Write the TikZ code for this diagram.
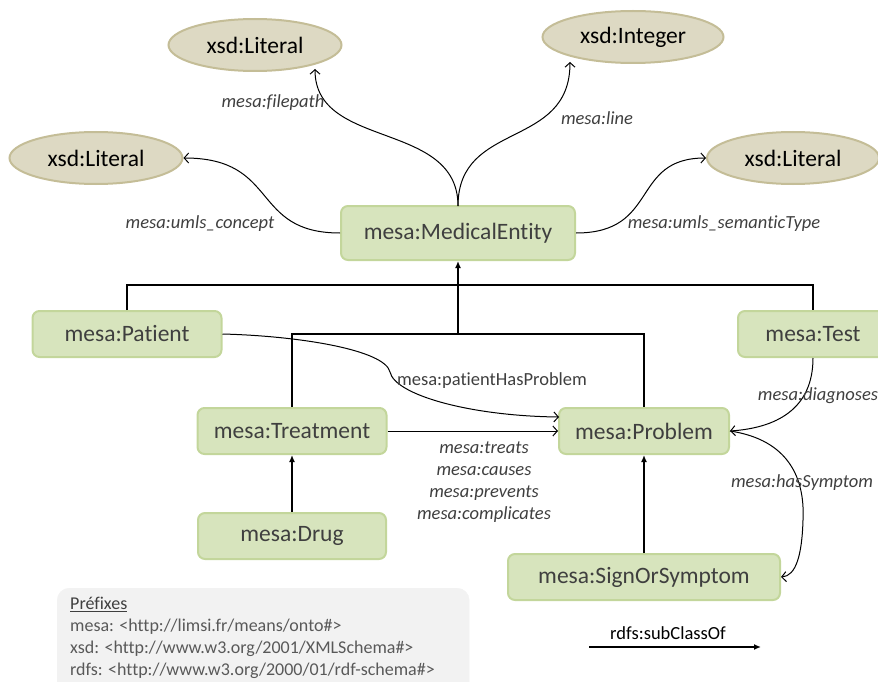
\documentclass[tikz,border=0pt]{standalone}
\usepackage{fontspec}
\setmainfont{Carlito}[Ligatures=NoCommon]
\usetikzlibrary{shapes.geometric,arrows.meta}
\definecolor{boxfill}{HTML}{D7E4BD}
\definecolor{boxline}{HTML}{C3D69B}
\definecolor{ellfill}{HTML}{DDD9C3}
\definecolor{ellline}{HTML}{C4BD97}
\definecolor{boxtext}{HTML}{3F3F3F}
\definecolor{legfill}{HTML}{F2F2F2}
\definecolor{legtext}{HTML}{595959}
\tikzset{
  cls/.style={draw=boxline, line width=2pt, fill=boxfill, rounded corners=7pt,
    minimum height=46pt, inner sep=0pt, text=boxtext, font=\fontsize{23.5}{26}\selectfont},
  lit/.style={ellipse, draw=ellline, line width=2pt, fill=ellfill, inner sep=0pt,
    minimum height=52pt, font=\fontsize{23.5}{26}\selectfont},
  sub/.style={line width=2.2pt, -{Latex[length=7pt,width=6pt]}},
  subl/.style={line width=2.2pt},
  prop/.style={line width=1pt, -{Straight Barb[length=4.5pt,width=10pt]}},
  lbl/.style={font=\fontsize{18.5}{22}\selectfont\itshape, text=boxtext, inner sep=0pt},
}
\begin{document}
\begin{tikzpicture}[x=1pt,y=-1pt]
\useasboundingbox (0,0) rectangle (878,682);
% literals
\node[lit, minimum width=173pt] (litA) at (255,45) {xsd:Literal};
\node[lit, minimum width=181pt] (intB) at (633,37) {xsd:Integer};
\node[lit, minimum width=173pt] (litL) at (96,158) {xsd:Literal};
\node[lit, minimum width=172pt] (litR) at (793,158) {xsd:Literal};
% classes
\node[cls, minimum width=234pt, minimum height=54pt] (me) at (458,233) {mesa:MedicalEntity};
\node[cls, minimum width=189pt] (pat) at (127,334) {mesa:Patient};
\node[cls, minimum width=150pt] (test) at (813,334) {mesa:Test};
\node[cls, minimum width=189pt] (treat) at (292,431) {mesa:Treatment};
\node[cls, minimum width=170pt] (prob) at (644,431) {mesa:Problem};
\node[cls, minimum width=188pt] (drug) at (292,536) {mesa:Drug};
\node[cls, minimum width=272pt] (sign) at (644,577) {mesa:SignOrSymptom};
% subclass hierarchy
\coordinate (j1) at (458,285);
\coordinate (j2) at (458,334);
\draw[subl] (pat.north) |- (j1) -| (test.north);
\draw[subl] (treat.north) |- (j2) -| (prob.north);
\draw[sub] (j2) -- (me.south);
\draw[sub] (drug.north) -- (treat.south);
\draw[sub] (sign.north) -- (prob.south);
% properties
\coordinate (meT) at (458,206);
\draw[prop] (meT) .. controls (458,120) and (315,150) .. (315,69);
\draw[prop] (meT) .. controls (458,120) and (570,150) .. (570,62);
\draw[prop] (me.west) .. controls (250,233) and (280,158) .. (litL.east);
\draw[prop] (me.east) .. controls (660,233) and (630,158) .. (litR.west);
\coordinate (pk) at (390,372);
\draw[prop] (pat.east) .. controls (300,336) and (385,350) .. (pk) .. controls (395,395) and (470,416) .. (559,417);
\draw[prop] (treat.east) -- (prob.west);
\draw[prop] (test.south) .. controls (813,410) and (775,428) .. (prob.east);
\coordinate (hs) at (803,520);
\draw[prop] (prob.east) .. controls (790,440) and (805,480) .. (hs) .. controls (802,555) and (796,576) .. (sign.east);
% labels
\node[lbl] (l1) at (273,103) {mesa:filepath};
\node[lbl] (l2) at (597,118) {mesa:line};
\node[lbl] (l3) at (200,224) {mesa:umls\_concept};
\node[lbl] (l4) at (724,224) {mesa:umls\_semanticType};
\node[lbl, font=\fontsize{18.5}{22}\selectfont] (l5) at (492,381) {mesa:patientHasProblem};
\node[lbl, align=center, font=\fontsize{18.5}{22}\selectfont\itshape] (l6) at (484,482) {mesa:treats\\mesa:causes\\mesa:prevents\\mesa:complicates};
\node[lbl] (l7) at (818,396) {mesa:diagnoses};
\node[lbl] (l8) at (802,483) {mesa:hasSymptom};
% legend
\node[draw=legfill, fill=legfill, rounded corners=12pt, minimum width=412pt, minimum height=110pt, anchor=north west] (leg) at (57,588) {};
\node[anchor=north west, align=left, inner sep=0pt, text=legtext, font=\fontsize{18}{22}\selectfont] (legt) at (70,597)
  {\textcolor{boxtext}{\underline{Préfixes}}\\mesa: <http://limsi.fr/means/onto\#>\\xsd: <http://www.w3.org/2001/XMLSchema\#>\\rdfs: <http://www.w3.org/2000/01/rdf-schema\#>};
\coordinate (sa) at (589,647);
\coordinate (sb) at (761,647);
\draw[sub] (sa) -- (sb);
\node[font=\fontsize{18.5}{22}\selectfont, text=black, anchor=south] (sl) at (668,643) {rdfs:subClassOf};
\end{tikzpicture}
\end{document}
